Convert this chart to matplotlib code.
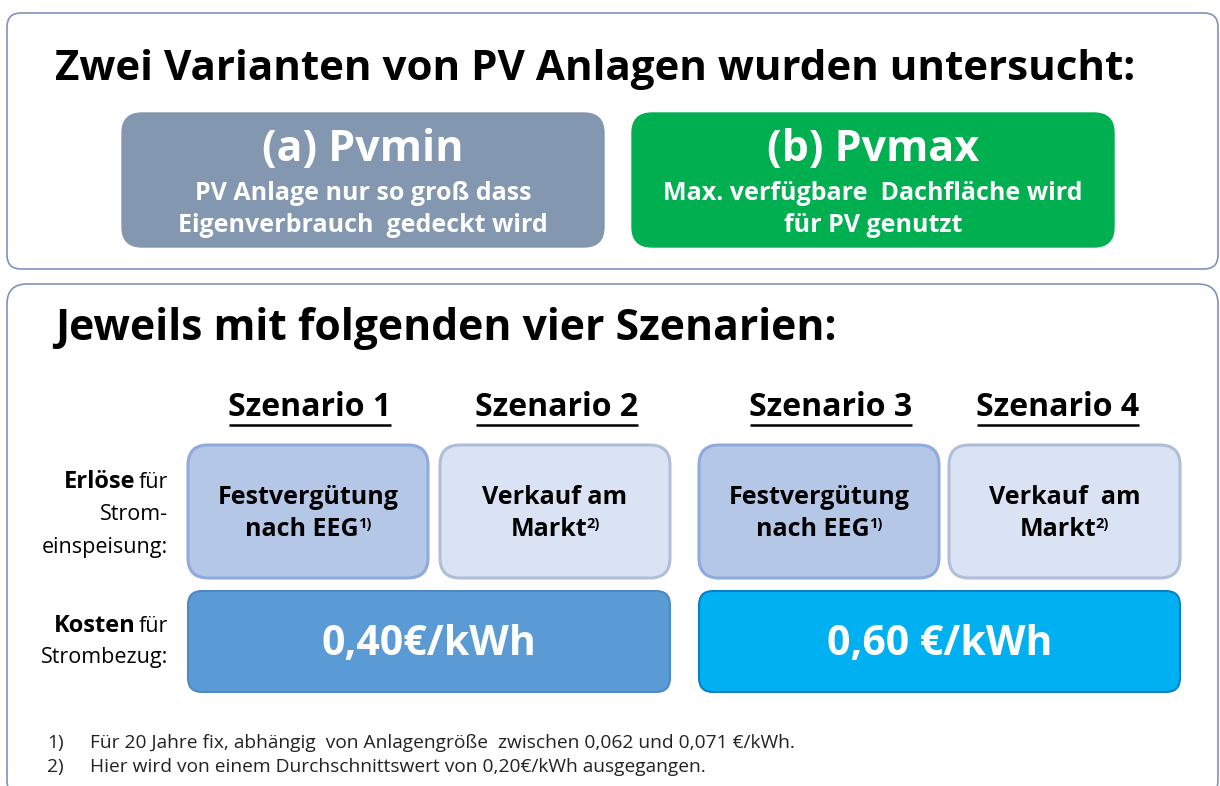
import matplotlib
matplotlib.use('Agg')
import matplotlib.pyplot as plt
from matplotlib.patches import FancyBboxPatch

plt.rcParams['font.family'] = ['Open Sans', 'DejaVu Sans']

# texts
title_top = 'Zwei Varianten von PV Anlagen wurden untersucht:'
title_bottom = 'Jeweils mit folgenden vier Szenarien:'
variant_heads = ['(a) Pvmin', '(b) Pvmax']
variant_lines = [['PV Anlage nur so groß dass', 'Eigenverbrauch  gedeckt wird'],
                 ['Max. verfügbare  Dachfläche wird', 'für PV genutzt']]
scenario_names = ['Szenario 1', 'Szenario 2', 'Szenario 3', 'Szenario 4']
revenue_lines = [['Festvergütung', 'nach EEG'], ['Verkauf am', 'Markt'],
                 ['Festvergütung', 'nach EEG'], ['Verkauf  am', 'Markt']]
revenue_notes = ['1)', '2)', '1)', '2)']
cost_labels = ['0,40€/kWh', '0,60 €/kWh']
footnotes = ['Für 20 Jahre fix, abhängig  von Anlagengröße  zwischen 0,062 und 0,071 €/kWh.',
             'Hier wird von einem Durchschnittswert von 0,20€/kWh ausgegangen.']

W, H = 1220, 786
fig = plt.figure(figsize=(W / 100, H / 100), dpi=100)
ax = fig.add_axes([0, 0, 1, 1])
ax.set_xlim(0, W)
ax.set_ylim(H, 0)
ax.axis('off')
fig.canvas.draw()
renderer = fig.canvas.get_renderer()


def rbox(x0, y0, x1, y1, fc, ec, lw=1.2, r=18):
    p = FancyBboxPatch((x0 + r, y0 + r), (x1 - x0) - 2 * r, (y1 - y0) - 2 * r,
                       boxstyle=f'round,pad={r}', fc=fc, ec=ec, lw=lw)
    ax.add_patch(p)


def extent(t):
    bb = t.get_window_extent(renderer)
    inv = ax.transData.inverted()
    (xa, ya), (xb, yb) = inv.transform([(bb.x0, bb.y0), (bb.x1, bb.y1)])
    return xa, xb, yb, ya


def sup_after(t, s, y, size, color):
    _, xr, _, _ = extent(t)
    ax.text(xr - 1, y, s, fontsize=size, fontweight='bold', color=color,
            ha='left', va='center')


# outer frames
rbox(7, 13, 1218, 269, 'white', '#7f93bc', lw=1.2, r=14)
rbox(7, 284, 1218, 800, 'white', '#7f93bc', lw=1.2, r=20)

ax.text(55, 69, title_top, fontsize=30.3, fontweight='bold', ha='left', va='center')
ax.text(55, 328, title_bottom, fontsize=30.7, fontweight='bold', ha='left', va='center')

# variant boxes
variant_x = [(122, 604), (632, 1114)]
variant_colors = ['#8497b0', '#00b050']
for (x0, x1), fc, head, lines in zip(variant_x, variant_colors, variant_heads, variant_lines):
    rbox(x0, 113, x1, 247, fc, fc, lw=1, r=20)
    cx = (x0 + x1) / 2
    ax.text(cx, 150, head, fontsize=31, fontweight='bold', color='white', ha='center', va='center')
    ax.text(cx, 193, lines[0], fontsize=18, fontweight='bold', color='white', ha='center', va='center')
    ax.text(cx, 225, lines[1], fontsize=18, fontweight='bold', color='white', ha='center', va='center')

# scenario headings with underline
scen_cx = [310, 557, 831, 1058]
for cx, name in zip(scen_cx, scenario_names):
    t = ax.text(cx, 408, name, fontsize=23, fontweight='bold', ha='center', va='center')
    xa, xb, _, _ = extent(t)
    ax.plot([xa + 1, xb - 1], [425, 425], color='black', lw=1.8, solid_capstyle='butt')

# revenue boxes
rev_x = [(188, 428), (440, 670), (699, 939), (949, 1180)]
rev_fc = ['#b4c7e7', '#dae3f3', '#b4c7e7', '#dae3f3']
rev_ec = ['#8faadc', '#b0bfd9', '#8faadc', '#b0bfd9']
for (x0, x1), fc, ec, lines, note in zip(rev_x, rev_fc, rev_ec, revenue_lines, revenue_notes):
    rbox(x0, 445, x1, 578, fc, ec, lw=2.2, r=20)
    cx = (x0 + x1) / 2
    ax.text(cx, 498, lines[0], fontsize=18, fontweight='bold', ha='center', va='center')
    t = ax.text(cx - 6, 529, lines[1], fontsize=18, fontweight='bold', ha='center', va='center')
    sup_after(t, note, 524, 10.5, 'black')

# cost boxes
cost_x = [(188, 670), (699, 1180)]
cost_fc = ['#5b9bd5', '#00b0f0']
cost_ec = ['#4f88c2', '#0a7fc8']
for (x0, x1), fc, ec, lab in zip(cost_x, cost_fc, cost_ec, cost_labels):
    rbox(x0, 591, x1, 692, fc, ec, lw=1.5, r=14)
    ax.text((x0 + x1) / 2, 645, lab, fontsize=29.5, fontweight='bold', color='white',
            ha='center', va='center')


# row labels: bold word + normal word, right aligned
def label_line(y, bold, normal):
    if normal:
        t = ax.text(168, y, normal, fontsize=15.5, ha='right', va='center')
        xa, _, _, _ = extent(t)
        ax.text(xa - 3, y, bold, fontsize=17, fontweight='bold', ha='right', va='center')
    else:
        ax.text(168, y, bold, fontsize=15.5, ha='right', va='center')


label_line(482, 'Erlöse', 'für')
label_line(515, 'Strom-', None)
label_line(548, 'einspeisung:', None)
label_line(626, 'Kosten', 'für')
label_line(658, 'Strombezug:', None)

# footnotes
for i, txt in enumerate(footnotes):
    y = 743 + 24 * i
    ax.text(47, y, f'{i + 1})', fontsize=13.8, ha='left', va='center', color='#222222')
    ax.text(90, y, txt, fontsize=13.8, ha='left', va='center', color='#222222')

fig.savefig('out.png', dpi=100)
